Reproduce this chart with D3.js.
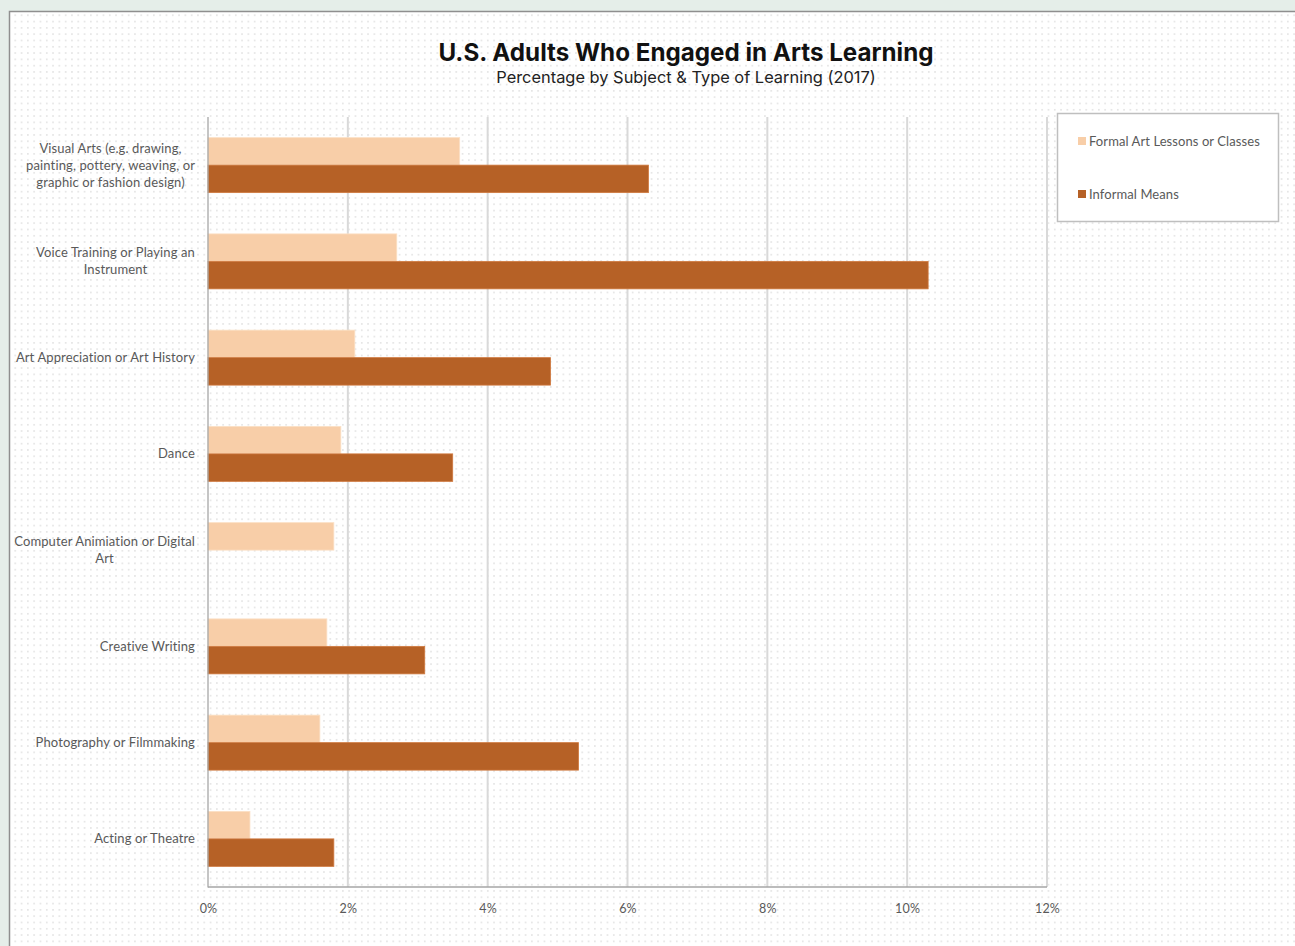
<!DOCTYPE html>
<html>
<head>
<meta charset="utf-8">
<script src="https://cdn.jsdelivr.net/npm/d3@7"></script>
<style>
  html, body { margin: 0; padding: 0; background: #e5eee9; }
  svg { display: block; }
</style>
</head>
<body>
<svg id="chart" width="1295" height="946"></svg>
<script>
const categories = [
  "Visual Arts (e.g. drawing,|painting, pottery, weaving, or|graphic or fashion design)",
  "Voice Training or Playing an|Instrument",
  "Art Appreciation or Art History",
  "Dance",
  "Computer Animiation or Digital|Art",
  "Creative Writing",
  "Photography or Filmmaking",
  "Acting or Theatre"
];
const formalValues   = [3.6, 2.7, 2.1, 1.9, 1.8, 1.7, 1.6, 0.6];
const informalValues = [6.3, 10.3, 4.9, 3.5, null, 3.1, 5.3, 1.8];
const seriesNames = ["Formal Art Lessons or Classes", "Informal Means"];
const seriesColors = ["#f8cea8", "#b66126"];
const xTicks = [0, 2, 4, 6, 8, 10, 12];

const svg = d3.select("#chart");
const W = 1295, H = 946;

// pattern
const defs = svg.append("defs");
const pat = defs.append("pattern").attr("id", "dots").attr("patternUnits", "userSpaceOnUse")
  .attr("width", 6.3).attr("height", 6.3);
pat.append("rect").attr("width", 6.3).attr("height", 6.3).attr("fill", "#ffffff");
pat.append("rect").attr("x", 2).attr("y", 2).attr("width", 1.3).attr("height", 1.3).attr("fill", "#d4d4d4");

// card
svg.append("rect").attr("x", 9.5).attr("y", 11.5).attr("width", W).attr("height", H)
  .attr("fill", "url(#dots)").attr("stroke", "#8f8f8f").attr("stroke-width", 1.5);

const margin = { left: 208, right: 1047, top: 117, bottom: 887 };
const x = d3.scaleLinear().domain([0, 12]).range([margin.left, margin.right]);
const y0 = d3.scaleBand().domain(d3.range(categories.length)).range([margin.top, margin.bottom])
  .paddingInner(0.4286).paddingOuter(0.2143);
const y1 = d3.scaleBand().domain([0, 1]).range([0, y0.bandwidth()]);

// gridlines
svg.append("g").selectAll("line").data(xTicks.slice(1)).join("line")
  .attr("x1", d => x(d)).attr("x2", d => x(d))
  .attr("y1", margin.top).attr("y2", margin.bottom)
  .attr("stroke", "#d9d9d9").attr("stroke-width", 2);

// bars
const groups = svg.append("g").selectAll("g").data(categories).join("g")
  .attr("transform", (d, i) => `translate(0,${y0(i)})`);
groups.each(function(d, i) {
  const g = d3.select(this);
  const vals = [formalValues[i], informalValues[i]];
  vals.forEach((v, s) => {
    if (v == null) return;
    g.append("rect")
      .attr("x", x(0)).attr("y", y1(s))
      .attr("width", x(v) - x(0)).attr("height", y1.bandwidth())
      .attr("fill", seriesColors[s])
      .attr("stroke", s === 0 ? "#fbe0c6" : "#d07a40").attr("stroke-width", 0.8);
  });
});

// axes lines
svg.append("line").attr("x1", margin.left).attr("x2", margin.left)
  .attr("y1", margin.top).attr("y2", margin.bottom + 0.5)
  .attr("stroke", "#a6a6a6").attr("stroke-width", 1.3);
svg.append("line").attr("x1", margin.left).attr("x2", margin.right)
  .attr("y1", margin.bottom).attr("y2", margin.bottom)
  .attr("stroke", "#a6a6a6").attr("stroke-width", 1.3);

const labelFont = "Lato, 'Open Sans', sans-serif";

// x axis tick labels
const xAxis = d3.axisBottom(x).tickValues(xTicks).tickFormat(d => d + "%").tickSize(0).tickPadding(17);
const xg = svg.append("g").attr("transform", `translate(0,${margin.bottom})`).call(xAxis);
xg.select(".domain").remove();
xg.selectAll("text").attr("font-family", labelFont).attr("font-size", 12.5)
  .attr("letter-spacing", 0.2).attr("fill", "#595959");

// category labels
const labelG = svg.append("g");
categories.forEach((c, i) => {
  const lines = c.split("|");
  const cy = y0(i) + y0.bandwidth() / 2;
  const lh = 17;
  const t = labelG.append("text").attr("font-family", labelFont).attr("font-size", 13)
    .attr("letter-spacing", 0.12).attr("fill", "#595959");
  const tspans = lines.map((l, k) => t.append("tspan").text(l)
    .attr("y", cy + (k - (lines.length - 1) / 2) * lh + 4.5));
  const maxW = d3.max(tspans, s => s.node().getComputedTextLength());
  const right = 195;
  tspans.forEach(s => s.attr("x", right - maxW / 2).attr("text-anchor", "middle"));
});

// title
svg.append("text").attr("x", 686).attr("y", 61).attr("text-anchor", "middle")
  .attr("font-family", "Inter, 'Open Sans', sans-serif").attr("font-weight", 700)
  .attr("font-size", 24.2).attr("fill", "#111").text("U.S. Adults Who Engaged in Arts Learning");
svg.append("text").attr("x", 686).attr("y", 83).attr("text-anchor", "middle")
  .attr("font-family", "Inter, 'Open Sans', sans-serif").attr("font-weight", 400)
  .attr("font-size", 16.4).attr("fill", "#222").text("Percentage by Subject & Type of Learning (2017)");

// legend
svg.append("rect").attr("x", 1057.5).attr("y", 113.5).attr("width", 221).attr("height", 108)
  .attr("fill", "#ffffff").attr("stroke", "#bfbfbf").attr("stroke-width", 1.5);
const legendY = [141, 194];
seriesNames.forEach((n, s) => {
  svg.append("rect").attr("x", 1078).attr("y", legendY[s] - 4).attr("width", 8).attr("height", 8)
    .attr("fill", seriesColors[s]);
  svg.append("text").attr("x", 1089).attr("y", legendY[s] + 4.5)
    .attr("font-family", labelFont).attr("font-size", 13).attr("letter-spacing", 0.08)
    .attr("fill", "#595959").text(n);
});
</script>
</body>
</html>
